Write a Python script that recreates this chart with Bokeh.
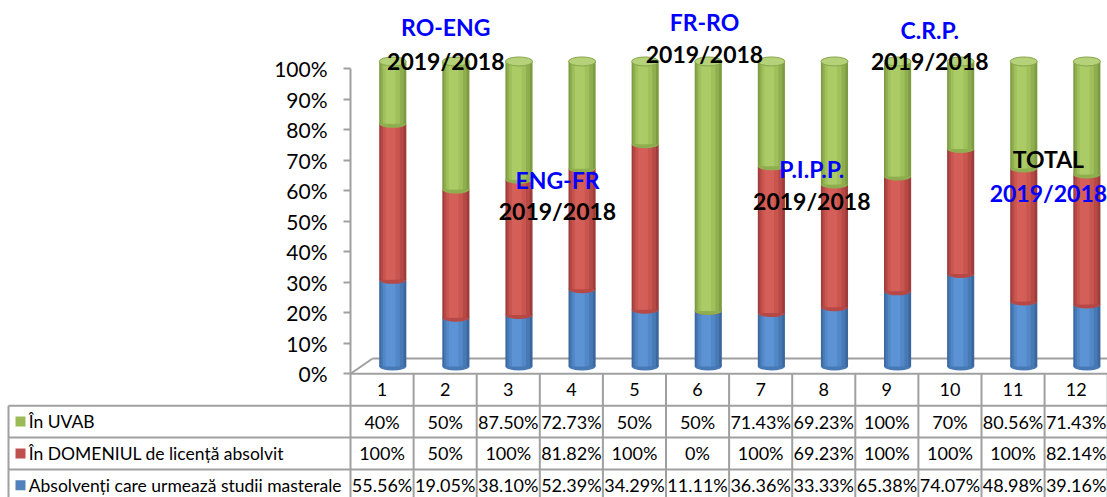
from bokeh.plotting import figure
from bokeh.models import Range1d, FixedTicker, PrintfTickFormatter, ColumnDataSource
from bokeh.embed import file_html
from bokeh.resources import INLINE
from bokeh.core.properties import value

# ---------------- data ----------------
categories = ["1", "2", "3", "4", "5", "6", "7", "8", "9", "10", "11", "12"]
in_uvab = [40, 50, 87.5, 72.73, 50, 50, 71.43, 69.23, 100, 70, 80.56, 71.43]
in_domeniu = [100, 50, 100, 81.82, 100, 0, 100, 69.23, 100, 100, 100, 82.14]
masterat = [55.56, 19.05, 38.10, 52.39, 34.29, 11.11, 36.36, 33.33, 65.38, 74.07, 48.98, 39.16]
series_names = ["În UVAB", "În DOMENIUL de licență absolvit",
                "Absolvenți care urmează studii masterale"]
y_ticks = [0, 10, 20, 30, 40, 50, 60, 70, 80, 90, 100]

annot_text = ["RO-ENG", "2019/2018", "ENG-FR", "2019/2018", "FR-RO", "2019/2018",
              "P.I.P.P.", "2019/2018", "C.R.P.", "2019/2018", "TOTAL", "2019/2018"]
annot_x = [2.01, 2.01, 3.78, 3.78, 6.11, 6.11, 7.81, 7.81, 9.68, 9.68, 11.56, 11.56]
annot_y = [113.7, 102.7, 63.7, 53.5, 115.3, 105.0, 67.0, 56.8, 112.6, 102.4, 70.3, 59.4]
annot_color = ["#0000ff", "#000000", "#0000ff", "#000000", "#0000ff", "#000000",
               "#0000ff", "#000000", "#0000ff", "#000000", "#000000", "#0000ff"]

# ---------------- style ----------------
FONT = "Lato"
GRID = "#a0a0a0"
BASE = 2.4          # 3D lift of the cylinders (in % units)
DEPTH_X = 0.35      # floor depth in category units
DEPTH_Y = 5.0       # floor depth in % units
BAR_OFF = 0.17
BAR_W = 0.43
BAR_PX = 27
ROW_H = 10.45
LABEL_LEFT = -4.92

shades = {
    "blue": ["#3b679e", "#4779b5", "#5288c8", "#5c93d4"],
    "red": ["#9e3c3a", "#b64946", "#c9554f", "#d45e58"],
    "green": ["#7d9b41", "#8fae4f", "#9fc05b", "#aacb66"],
}
key_color = {"green": "#9bbb59", "red": "#c0504d", "blue": "#4f81bd"}
layers = [(1.0, 0.0), (0.84, -0.02), (0.62, -0.05), (0.36, -0.08)]

pos = [i + 1 for i in range(len(categories))]
totals = [a + b + c for a, b, c in zip(in_uvab, in_domeniu, masterat)]
f_blue = [m / t * 100 for m, t in zip(masterat, totals)]
f_red = [d / t * 100 for d, t in zip(in_domeniu, totals)]
f_green = [u / t * 100 for u, t in zip(in_uvab, totals)]

b0 = [BASE] * len(pos)
t0 = [b + v for b, v in zip(b0, f_blue)]
t1 = [b + v for b, v in zip(t0, f_red)]
t2 = [b + v for b, v in zip(t1, f_green)]

p = figure(width=1107, height=497,
           x_range=Range1d(-5.047, 12.497), y_range=Range1d(-40.56, 122.39),
           x_axis_location=None, y_axis_location="left",
           output_backend="svg", toolbar_location=None,
           min_border=0, outline_line_color=None)
p.grid.visible = False

ax = p.yaxis[0]
ax.fixed_location = 0.5
ax.bounds = (0, 100)
ax.ticker = FixedTicker(ticks=y_ticks)
ax.formatter = PrintfTickFormatter(format="%d%%")
ax.major_label_text_font = FONT
ax.major_label_text_font_size = "21px"
ax.major_label_text_color = "#000000"
ax.axis_line_color = GRID
ax.axis_line_width = 2
ax.major_tick_line_color = GRID
ax.major_tick_line_width = 2
ax.major_tick_out = 7
ax.major_tick_in = 0
ax.minor_tick_line_color = None
ax.major_label_standoff = 16

# 3D floor
p.segment(x0=[0.5, 0.5 + DEPTH_X], y0=[0, DEPTH_Y],
          x1=[0.5 + DEPTH_X, 12.5], y1=[DEPTH_Y, DEPTH_Y],
          line_color=GRID, line_width=2)

# cylinders
xc = [x + BAR_OFF for x in pos]
segments = [("blue", b0, t0), ("red", t0, t1), ("green", t1, t2)]
for name, bot, top in segments:
    cols = shades[name]
    p.ellipse(x=xc, y=bot, width=BAR_PX, height=8, width_units="screen",
              height_units="screen", fill_color=cols[1], line_color=None)
    for (wf, sh), c in zip(layers, cols):
        p.vbar(x=[x + sh * BAR_W for x in xc], width=BAR_W * wf, bottom=bot, top=top,
               fill_color=c, line_color=None)
p.ellipse(x=xc, y=t2, width=BAR_PX, height=9, width_units="screen",
          height_units="screen", fill_color="#b5d27a", line_color="#86a548", line_width=1)

# floor front line / table top
p.segment(x0=[0.5], y0=[0], x1=[12.5], y1=[0], line_color=GRID, line_width=2)

# table grid
row_lines = [-ROW_H * k for k in range(1, 5)]
p.segment(x0=[LABEL_LEFT] * len(row_lines), y0=row_lines,
          x1=[12.5] * len(row_lines), y1=row_lines, line_color=GRID, line_width=2)
col_lines = [0.5 + k for k in range(len(pos) + 1)]
p.segment(x0=col_lines, y0=[0] * len(col_lines), x1=col_lines,
          y1=[-4 * ROW_H] * len(col_lines), line_color=GRID, line_width=2)
p.segment(x0=[LABEL_LEFT], y0=[-ROW_H], x1=[LABEL_LEFT], y1=[-4 * ROW_H],
          line_color=GRID, line_width=2)

# header numbers
p.text(x=pos, y=[-ROW_H / 2] * len(pos), text=categories, text_font=value(FONT),
       text_font_size="18px", text_align="center", text_baseline="middle",
       text_color="#000000")


def fmt(v):
    return "%d%%" % v if float(v).is_integer() else "%.2f%%" % v


rows = [(series_names[0], in_uvab, "green"),
        (series_names[1], in_domeniu, "red"),
        (series_names[2], masterat, "blue")]
for r, (label, vals, cname) in enumerate(rows):
    yc = -ROW_H * (r + 1.5)
    p.scatter(x=[-4.73], y=[yc], marker="square", size=10,
              fill_color=key_color[cname], line_color=None)
    p.text(x=[-4.60], y=[yc], text=[label], text_font=value(FONT),
           text_font_size="17.5px", text_align="left", text_baseline="middle",
           text_color="#000000")
    p.text(x=pos, y=[yc] * len(pos), text=[fmt(v) for v in vals],
           text_font=value(FONT), text_font_size="18px", text_align="center",
           text_baseline="middle", text_color="#000000")

# annotations
src = ColumnDataSource(dict(x=annot_x, y=annot_y, t=annot_text, c=annot_color))
p.text(x="x", y="y", text="t", text_color="c", source=src, text_font=value(FONT),
       text_font_style="bold", text_font_size="23px", text_align="center",
       text_baseline="middle")

open("out.html", "w").write(file_html(p, INLINE))
